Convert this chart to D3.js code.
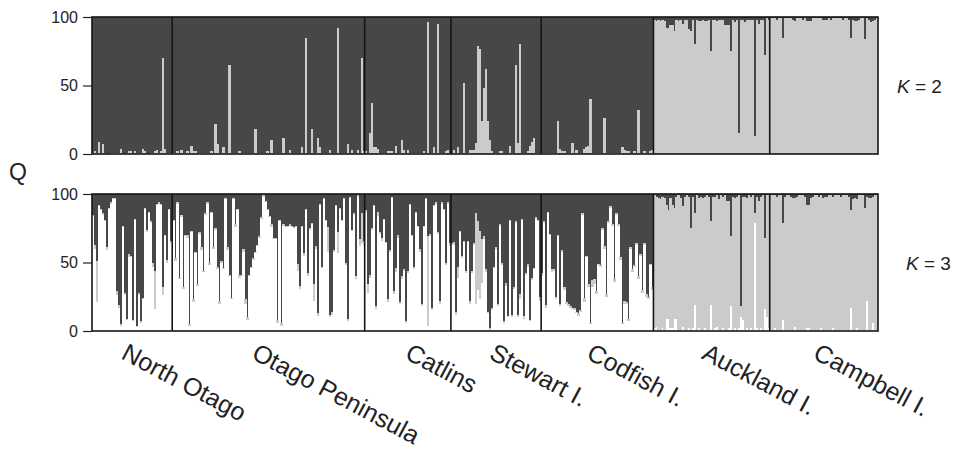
<!DOCTYPE html>
<html>
<head>
<meta charset="utf-8">
<script src="https://cdn.jsdelivr.net/npm/d3@7"></script>
<style>
  body { margin: 0; background: #fff; }
  svg { display: block; }
  text { font-family: "Liberation Sans", Arial, sans-serif; fill: #222; }
</style>
</head>
<body>
<div id="chart"></div>
<script>
// populations, left to right
const populations = ['North Otago', 'Otago Peninsula', 'Catlins', 'Stewart I.', 'Codfish I.', 'Auckland I.', 'Campbell I.']

// K = 2 : membership (%) in the light cluster, one value per individual
const k2NorthOtago = [1,2,1,9,1,7,1,1,0,1, 1,1,1,1,4,1,0,1,2,2, 1,2,1,1,1,4,2,1,0,1, 1,2,3,1,2,70,4,1,1,1]
const k2OtagoPen = [1,1,2,1,3,1,1,2,1,6, 2,2,1,1,1,1,1,1,1,2, 1,22,7,1,1,5,1,1,65,1, 1,1,1,2,1,1,1,1,1,1,
  1,18,1,1,1,1,1,2,1,10, 1,1,1,1,1,12,1,1,3,1, 1,1,1,1,5,1,85,1,1,18, 1,1,12,5,1,1,1,1,3,1, 1,1,92,1,1,1,1,7,1,3, 1,1,3,1,70,2]
const k2Catlins = [2,1,15,37,5,5,4,1,1,1, 1,2,2,2,1,6,1,1,10,3, 1,3,1,1,1,1,1,1,1,2, 1,96,1,1,5,1,95,1,1,1, 2,3,1]
const k2Stewart = [1,3,1,5,1,1,52,1,1,3, 3,3,8,79,77,24,48,62,24,10, 2,1,1,1,2,2,1,1,1,6, 1,1,65,8,80,1,1,1,2,6, 9,12,1,1,1]
const k2Codfish = [1,1,1,1,1,1,1,1,24,4, 2,2,1,1,1,8,1,3,1,1, 1,4,5,6,40,1,1,1,1,1, 1,26,1,1,1,1,1,1,1,1, 5,3,2,2,1,1,2,1,32,1, 1,2,1,1,2,3]
const k2Auckland = [98,97,98,97,98,97,92,92,94,94, 90,98,97,98,95,98,98,91,90,98, 80,98,97,97,98,97,97,98,75,98,
  98,97,98,98,98,94,94,94,75,98, 96,98,15,98,98,96,98,98,98,98, 13,98,95,98,98,72,99,98]
const k2Campbell = [99,99,99,98,99,99,85,99,99,99, 99,98,97,99,99,99,98,99,97,97, 97,99,99,99,99,99,98,98,98,99,
  98,99,99,99,99,99,98,99,99,98, 85,98,97,97,98,99,99,84,99,98, 96,97,98,99]

// K = 3 : membership (%) in the white cluster
const k3WhiteNorthOtago = [84,60,21,91,88,85,80,59,89,93, 96,96,26,17,4,76,26,8,54,54, 7,81,3,26,6,23,89,72,86,79, 47,16,92,93,92,26,69,50,88,64]
const k3WhiteOtagoPen = [80,51,93,38,83,31,69,68,4,72, 21,57,33,71,59,43,85,93,48,86, 60,74,45,20,50,45,96,59,40,23,
  96,76,88,39,40,58,20,8,40,46, 52,57,62,68,82,98,94,88,83,76, 67,67,6,80,4,77,76,76,77,76,
  75,76,44,31,76,55,88,40,74,78, 22,60,11,92,46,96,80,58,10,12, 58,91,57,89,80,96,48,7,97,73, 85,38,98,62,64,63]
const k3WhiteCatlins = [87,28,39,74,91,16,84,71,66,81, 64,21,58,97,27,43,68,20,38,44, 6,42,92,69,45,86,76,58,18,76, 96,4,69,15,91,93,71,20,93,88, 48,93,62]
const k3WhiteStewart = [63,63,12,39,72,53,65,42,65,20, 42,63,20,30,23,35,67,43,13,1, 15,46,60,18,77,48,6,33,10,80, 10,31,79,10,23,81,9,41,47,7, 37,45,82,80,22]
const k3WhiteCodfish = [40,79,17,86,70,43,44,23,69,18, 58,30,20,18,17,16,15,13,11,14, 85,21,54,32,5,32,34,27,48,47,
  74,60,25,79,90,77,36,85,77,52, 5,20,20,7,60,43,47,63,38,55, 28,63,25,23,48,30]
const k3WhiteAuckland = [2,3,1,1,2,1,9,9,2,2, 9,9,1,1,3,1,1,2,1,2, 19,1,2,1,1,2,1,1,19,1, 2,3,1,1,2,1,1,2,18,1, 2,1,2,10,8,1,2,1,2,1, 79,2,1,2,1,16,10,2]
const k3WhiteCampbell = [1,1,2,1,1,1,8,1,1,1, 1,1,3,1,1,1,1,1,2,2, 1,1,1,1,1,2,1,1,1,1, 1,2,1,1,1,1,1,1,1,1, 17,1,1,2,1,1,1,1,22,1, 1,6,1,1]

// K = 3 : membership (%) in the light grey cluster (dark grey is the rest)
const k3LightNorthOtago = [1,3,30,1,1,1,1,2,1,1, 1,1,3,2,1,1,2,1,2,1, 1,1,1,2,1,1,1,2,1,1, 3,28,1,1,1,6,1,2,1,2]
const k3LightOtagoPen = [1,2,1,1,2,1,1,2,1,1, 2,1,1,1,2,1,1,1,2,1, 1,1,2,2,1,1,1,2,1,1, 1,2,1,2,1,2,3,2,1,1,
  1,1,1,1,1,1,1,1,1,2, 1,1,2,1,2,1,1,1,1,1, 1,1,5,2,1,2,1,2,1,1, 12,2,2,1,1,1,1,18,2,2, 1,1,15,1,1,1,2,2,1,1, 1,2,1,5,22,3]
const k3LightCatlins = [1,6,2,1,1,2,3,1,2,1, 1,2,1,1,2,3,2,1,2,1, 1,2,1,1,2,1,1,2,2,1, 1,65,2,2,1,1,1,2,1,1, 2,1,2]
const k3LightStewart = [1,2,2,8,1,2,1,2,1,2, 2,1,66,50,50,32,2,2,1,1, 2,1,1,2,1,2,1,2,1,1, 2,1,1,2,4,1,2,1,2,1, 2,1,1,1,3]
const k3LightCodfish = [2,1,2,1,1,2,1,2,1,2, 1,2,1,2,1,1,2,1,2,1, 1,3,1,2,1,5,4,2,1,1, 1,2,2,1,1,1,2,1,1,2, 1,2,1,2,1,2,1,1,2,1, 2,1,2,2,1,2]
const k3LightAuckland = [97,95,96,95,96,96,83,79,95,90, 81,89,98,96,88,97,98,96,74,96, 67,98,95,97,96,96,98,97,61,97,
  96,96,95,98,96,98,94,93,51,97, 95,97,97,8,90,97,95,98,96,98, 7,96,94,96,98,52,89,97]
const k3LightCampbell = [98,98,97,97,98,98,71,97,98,98, 97,96,94,97,98,98,98,97,90,90, 96,97,98,98,97,97,96,97,97,98,
  98,96,98,98,98,97,98,98,98,97, 71,95,96,94,98,98,98,89,76,96, 96,92,98,98]

const k2Light = [k2NorthOtago, k2OtagoPen, k2Catlins, k2Stewart, k2Codfish, k2Auckland, k2Campbell]
const k3White = [k3WhiteNorthOtago, k3WhiteOtagoPen, k3WhiteCatlins, k3WhiteStewart, k3WhiteCodfish, k3WhiteAuckland, k3WhiteCampbell]
const k3Light = [k3LightNorthOtago, k3LightOtagoPen, k3LightCatlins, k3LightStewart, k3LightCodfish, k3LightAuckland, k3LightCampbell]

// 画布与面板位置
const width = 959
const height = 454
const plotLeft = 92
const plotRight = 878
const panels = [
  { label: '2', top: 17, bottom: 154, keys: ['light2', 'dark2'], kx: 897 },
  { label: '3', top: 194, bottom: 331, keys: ['white3', 'light3', 'dark3'], kx: 906 }
]
const colors = {
  light2: '#cbcbcb', dark2: '#474747',
  white3: '#ffffff', light3: '#cbcbcb', dark3: '#474747'
}
// 标签相对于种群中心的水平偏移
const labelDx = [-12, -18, -4, -8, -12, -11, -12]

// one row per individual
const individuals = []
const popStarts = []
populations.forEach((name, p) => {
  popStarts.push(individuals.length)
  k2Light[p].forEach((v, j) => {
    const w = k3White[p][j]
    const l = k3Light[p][j]
    individuals.push({
      pop: p,
      light2: v, dark2: 100 - v,
      white3: w, light3: l, dark3: 100 - w - l
    })
  })
})
popStarts.push(individuals.length)

const x = d3.scaleBand()
  .domain(d3.range(individuals.length))
  .range([plotLeft, plotRight])
  .padding(0)

const svg = d3.select('#chart')
  .append('svg')
  .attr('width', width)
  .attr('height', height)

svg.append('rect').attr('width', width).attr('height', height).attr('fill', '#fff')

panels.forEach(panel => {
  const y = d3.scaleLinear().domain([0, 100]).range([panel.bottom, panel.top])
  const series = d3.stack().keys(panel.keys)(individuals)
  const g = svg.append('g')

  // 堆叠条形：顶层(深灰)作为底色，其余层画在上面
  const topKey = panel.keys[panel.keys.length - 1]
  g.append('rect')
    .attr('x', plotLeft).attr('y', panel.top)
    .attr('width', plotRight - plotLeft).attr('height', panel.bottom - panel.top)
    .attr('fill', colors[topKey])

  g.selectAll('g.layer')
    .data(series.filter(s => s.key !== topKey))
    .join('g')
    .attr('class', 'layer')
    .attr('fill', d => colors[d.key])
    .attr('shape-rendering', 'crispEdges')
    .selectAll('rect')
    .data(d => d)
    .join('rect')
    .attr('x', (d, i) => x(i))
    .attr('width', x.bandwidth() + 0.3)
    .attr('y', d => y(d[1]))
    .attr('height', d => Math.max(0, y(d[0]) - y(d[1])))

  // 种群分隔线
  g.selectAll('line.sep')
    .data(popStarts.slice(1, -1))
    .join('line')
    .attr('class', 'sep')
    .attr('x1', d => x(d)).attr('x2', d => x(d))
    .attr('y1', panel.top).attr('y2', panel.bottom)
    .attr('stroke', '#151515')
    .attr('stroke-width', 1.6)

  // 边框
  g.append('rect')
    .attr('x', plotLeft).attr('y', panel.top)
    .attr('width', plotRight - plotLeft).attr('height', panel.bottom - panel.top)
    .attr('fill', 'none')
    .attr('stroke', '#151515')
    .attr('stroke-width', 1.6)

  // y轴
  const axis = g.append('g')
    .attr('transform', `translate(${plotLeft},0)`)
    .call(d3.axisLeft(y).tickValues([0, 50, 100]).tickSize(9).tickPadding(5))
  axis.select('.domain').remove()
  axis.selectAll('line').attr('stroke', '#222').attr('stroke-width', 1.2)
  axis.selectAll('text')
    .attr('font-size', 16)
    .style('font-family', '"Liberation Sans", Arial, sans-serif')
    .attr('fill', '#222')

  // K 标签
  const kt = g.append('text')
    .attr('x', panel.kx)
    .attr('y', (panel.top + panel.bottom) / 2 + 1)
    .attr('dy', '0.35em')
    .attr('font-size', 19)
  kt.append('tspan').attr('font-style', 'italic').text('K')
  kt.append('tspan').text(' = ' + panel.label)
})

// Q 轴标题
svg.append('text')
  .attr('x', 18)
  .attr('y', 172)
  .attr('dy', '0.35em')
  .attr('text-anchor', 'middle')
  .attr('font-size', 23)
  .text('Q')

// 种群名称（斜排）
svg.selectAll('text.pop')
  .data(populations)
  .join('text')
  .attr('class', 'pop')
  .attr('font-size', 25)
  .attr('transform', (d, p) => {
    const cx = (x(popStarts[p]) + x(popStarts[p + 1] - 1) + x.bandwidth()) / 2
    return `translate(${cx + labelDx[p]},358) rotate(28)`
  })
  .text(d => d)
</script>
</body>
</html>
